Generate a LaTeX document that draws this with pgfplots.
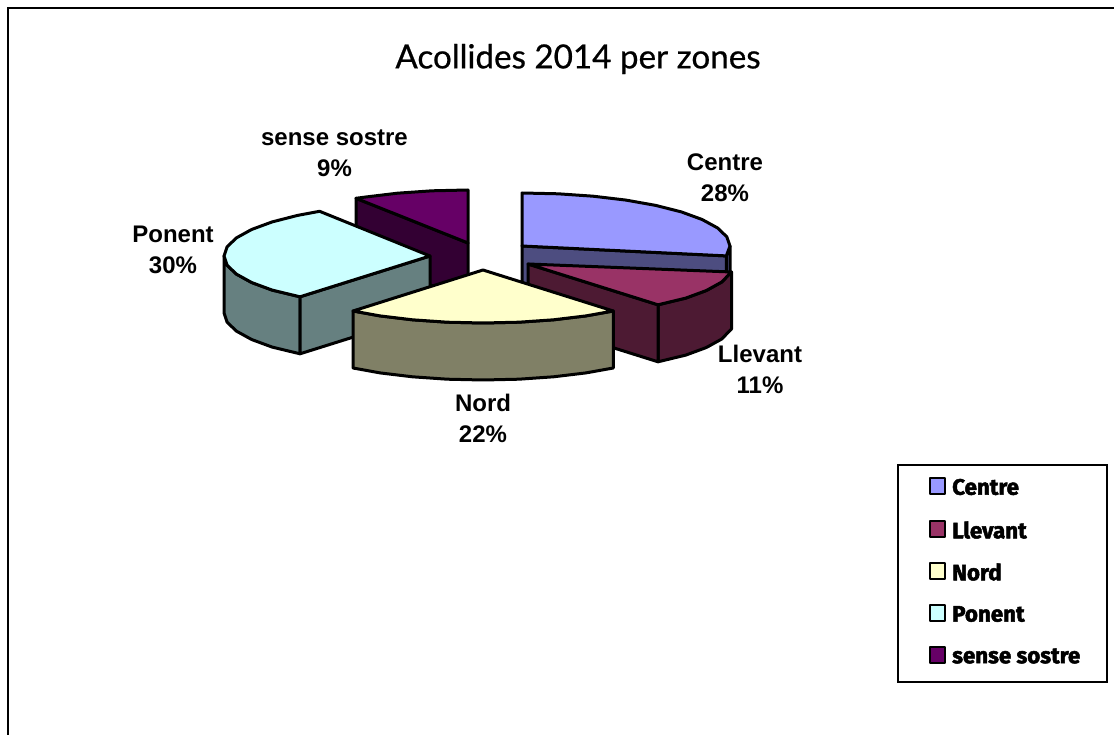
\documentclass[border=0pt]{standalone}
\usepackage{pgfplots}
\pgfplotsset{compat=1.18}
\usepackage{fontspec}
\setmainfont{Liberation Sans}
\newfontfamily\titlefont[FakeBold=0.6]{Lato}
\newfontfamily\legfont[FakeBold=2.2]{Fira Sans Bold}
\definecolor{cTop}{HTML}{9999FF}
\definecolor{cWall}{HTML}{4D4D80}
\definecolor{lTop}{HTML}{993366}
\definecolor{lWall}{HTML}{4D1A33}
\definecolor{nTop}{HTML}{FFFFCC}
\definecolor{nWall}{HTML}{808066}
\definecolor{pTop}{HTML}{CCFFFF}
\definecolor{pWall}{HTML}{668080}
\definecolor{sTop}{HTML}{660066}
\definecolor{sWall}{HTML}{330033}
\tikzset{
  poly/.style={draw=black, line width=3pt, line join=round, mark=none},
  lab/.style={align=center, font=\fontsize{24}{31}\selectfont\bfseries, text=black},
  leg/.style={anchor=west, font=\fontsize{22.3}{25}\legfont, text=black, inner sep=0pt},
}
\begin{document}
\begin{tikzpicture}
\begin{axis}[
  hide axis, scale only axis, width=1114pt, height=735pt,
  xmin=0, xmax=1114, ymin=0, ymax=735, y dir=reverse,
  clip=true,
]
% page background and frame
\addplot[fill=white, draw=none, mark=none] coordinates {(0,0)(1114,0)(1114,735)(0,735)} -- cycle;
\addplot[draw=black, line width=2.6pt, mark=none] coordinates {(8,735)(8,8)(1114,8)};

% sense sostre (9%)
\addplot[poly, fill=sWall] coordinates {(356,198.3)(468,243)(468,300)(356,255.3)} -- cycle;
\addplot[poly, fill=sTop] coordinates {(468,243)(356,198.3)(365,197.1)(397.5,193.2)(432.2,190.8)(468,190)} -- cycle;

% Ponent (30%)
\addplot[poly, fill=pWall] coordinates {(300,296.8)(272.2,290.1)(251.6,282.5)(236.4,274.1)(227.1,265.2)(224,256)(224,313)(227.1,322.2)(236.4,331.1)(251.6,339.5)(272.2,347.1)(300,353.8)} -- cycle;
\addplot[poly, fill=pWall] coordinates {(430,256)(300,296.8)(300,353.8)(430,313)} -- cycle;
\addplot[poly, fill=pTop] coordinates {(430,256)(300,296.8)(272.2,290.1)(251.6,282.5)(236.4,274.1)(227.1,265.2)(224,256)(227.1,246.8)(236.4,237.9)(251.6,229.5)(272.2,221.9)(297.6,215.4)(319.6,211.3)} -- cycle;

% Centre (28%)
\addplot[poly, fill=cWall] coordinates {(730,246)(726.3,255.9)(726.3,312.9)(730,303)} -- cycle;
\addplot[poly, fill=cWall] coordinates {(522,246)(726.3,255.9)(726.3,312.9)(522,303)} -- cycle;
\addplot[poly, fill=cTop] coordinates {(522,246)(522,193)(558.1,193.8)(593.1,196.2)(626,200.1)(655.7,205.4)(681.3,211.9)(702.1,219.5)(717.5,227.9)(726.8,236.8)(730,246)(726.3,255.9)} -- cycle;

% Llevant (11%)
\addplot[poly, fill=lWall] coordinates {(731.5,272)(721.6,282.1)(706.4,290.5)(685.8,298.1)(658,304.8)(658,361.8)(685.8,355.1)(706.4,347.5)(721.6,339.1)(731.5,329)} -- cycle;
\addplot[poly, fill=lWall] coordinates {(528,264)(658,304.8)(658,361.8)(528,321)} -- cycle;
\addplot[poly, fill=lTop] coordinates {(528,264)(731.5,272)(721.6,282.1)(706.4,290.5)(685.8,298.1)(658,304.8)} -- cycle;

% Nord (22%)
\addplot[poly, fill=nWall] coordinates {(613.3,311)(586,315.9)(553.5,319.8)(518.8,322.2)(483,323)(447.2,322.2)(412.5,319.8)(380,315.9)(353,311)(353,368)(380,372.9)(412.5,376.8)(447.2,379.2)(483,380)(518.8,379.2)(553.5,376.8)(586,372.9)(613.3,368)} -- cycle;
\addplot[poly, fill=nTop] coordinates {(483,270)(613.3,311)(586,315.9)(553.5,319.8)(518.8,322.2)(483,323)(447.2,322.2)(412.5,319.8)(380,315.9)(353,311)} -- cycle;

% legend
\addplot[draw=black, fill=white, line width=2.6pt, mark=none] coordinates {(898,465)(1107,465)(1107,682)(898,682)} -- cycle;
\addplot[poly, line width=2.6pt, fill=cTop] coordinates {(930,478)(945,478)(945,494)(930,494)} -- cycle;
\addplot[poly, line width=2.6pt, fill=lTop] coordinates {(930,521)(945,521)(945,537)(930,537)} -- cycle;
\addplot[poly, line width=2.6pt, fill=nTop] coordinates {(930,563)(945,563)(945,579)(930,579)} -- cycle;
\addplot[poly, line width=2.6pt, fill=pTop] coordinates {(930,605)(945,605)(945,621)(930,621)} -- cycle;
\addplot[poly, line width=2.6pt, fill=sTop] coordinates {(930,647)(945,647)(945,663)(930,663)} -- cycle;

\node[leg] at (axis cs:952,487) {Centre};
\node[leg] at (axis cs:952,530) {Llevant};
\node[leg] at (axis cs:952,572) {Nord};
\node[leg] at (axis cs:952,614) {Ponent};
\node[leg] at (axis cs:952,656) {sense sostre};

% labels
\node[lab] at (axis cs:725,178) {Centre\\28\%};
\node[lab] at (axis cs:760,369) {Llevant\\11\%};
\node[lab] at (axis cs:483,418.5) {Nord\\22\%};
\node[lab] at (axis cs:173,249.5) {Ponent\\30\%};
\node[lab] at (axis cs:334.5,153.5) {sense sostre\\9\%};

% title
\node[font=\fontsize{33.2}{36}\titlefont, text=black] at (axis cs:578,59) {Acollides 2014 per zones};
\end{axis}
\end{tikzpicture}
\end{document}
